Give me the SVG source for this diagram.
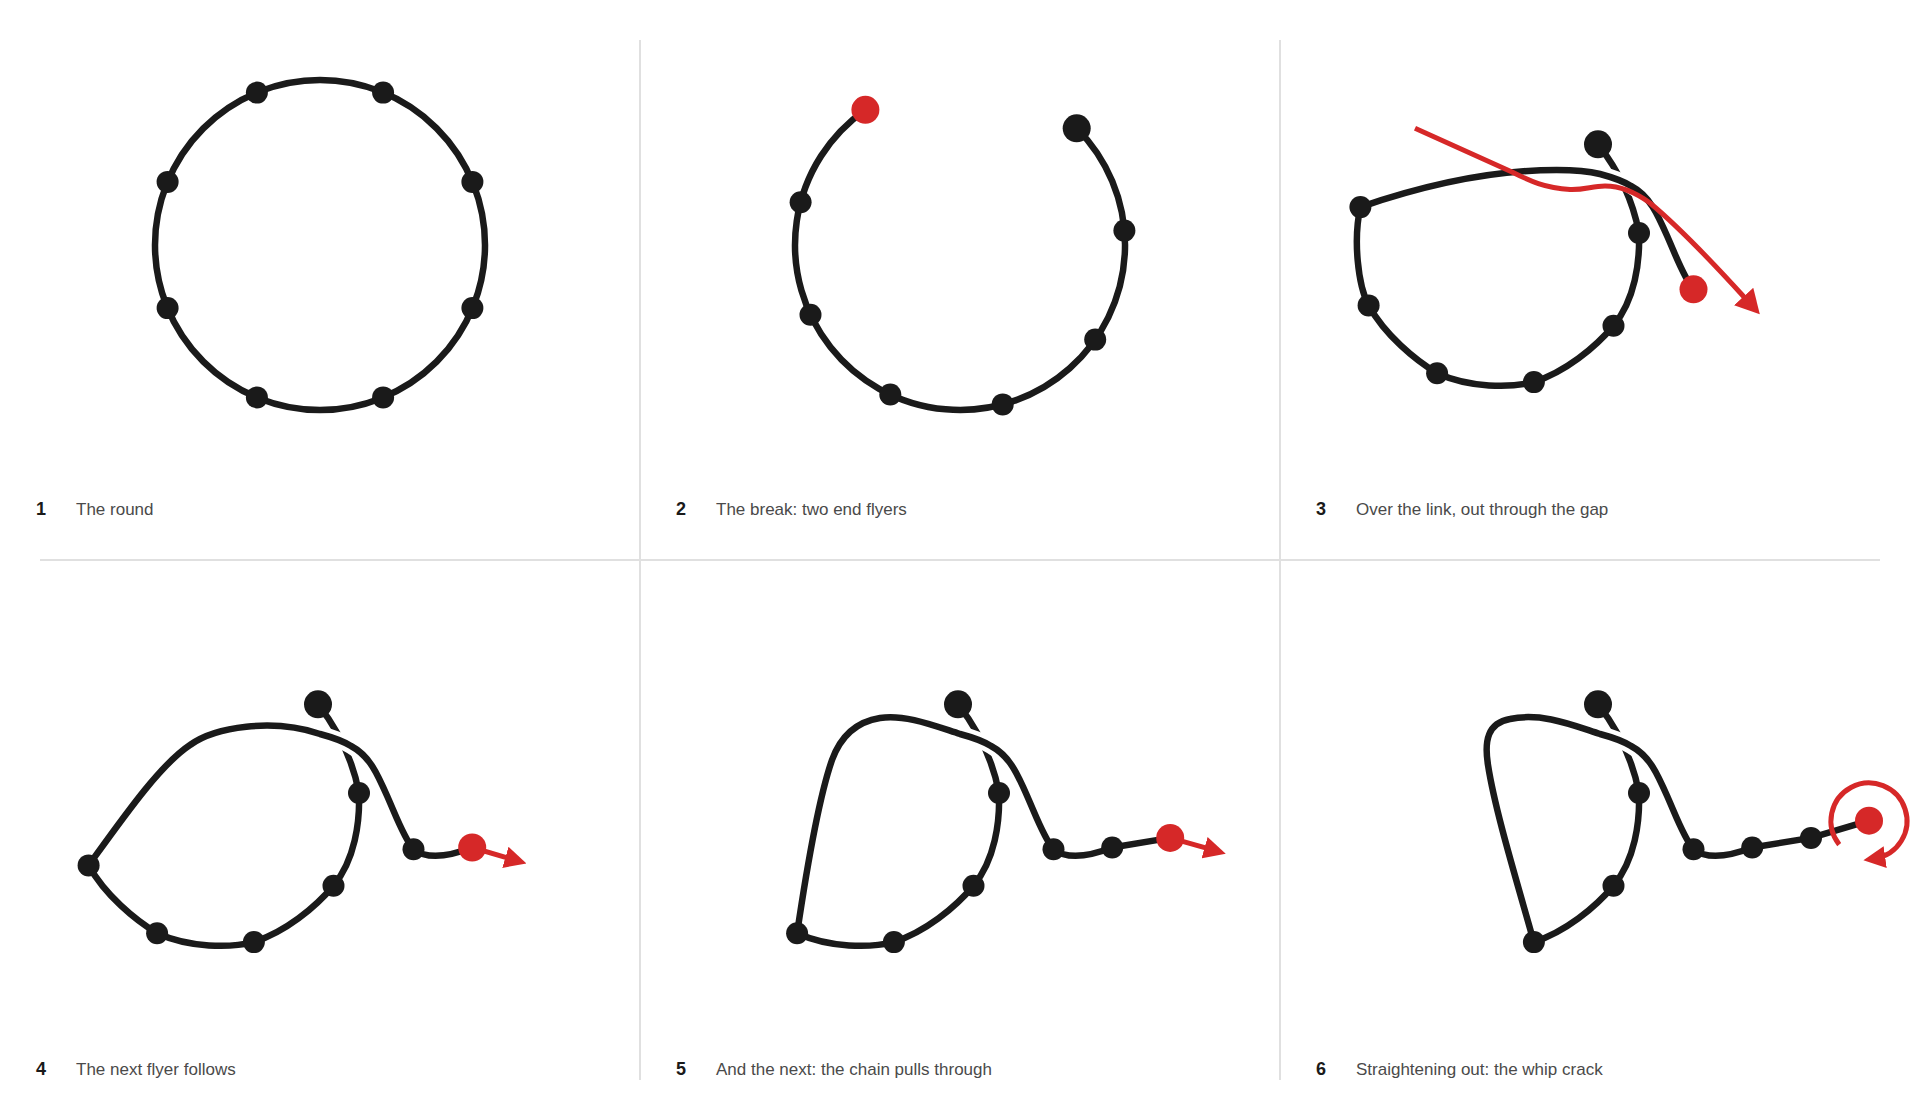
<svg xmlns="http://www.w3.org/2000/svg" width="1920" height="1120" viewBox="0 0 1920 1120">
<style>
.ln{fill:none;stroke:#1a1a1a;stroke-width:6.5;stroke-linecap:round;stroke-linejoin:round}
.halo{fill:none;stroke:#fff;stroke-width:16;stroke-linecap:butt}
.dot{fill:#1a1a1a}
.rdot{fill:#d62828}
.rl{fill:none;stroke:#d62828;stroke-width:5;stroke-linecap:butt;stroke-linejoin:round}
.num{font-family:"Liberation Sans",Arial,sans-serif;font-weight:bold;font-size:18px;fill:#1a1a1a}
.cap{font-family:"Liberation Sans",Arial,sans-serif;font-size:17px;fill:#4a4a4a}
.div{stroke:#e0e0e0;stroke-width:2;fill:none}
</style>
<defs>
<marker id="ah" markerUnits="userSpaceOnUse" viewBox="0 0 22 22" markerWidth="22" markerHeight="22" refX="2" refY="11" orient="auto"><path d="M0,0 L22,11 L0,22 z" fill="#d62828"/></marker>
<marker id="ahL" markerUnits="userSpaceOnUse" viewBox="0 0 24 26" markerWidth="24" markerHeight="26" refX="2" refY="13" orient="auto"><path d="M0,0 L24,13 L0,26 z" fill="#d62828"/></marker>
<marker id="ahM" markerUnits="userSpaceOnUse" viewBox="0 0 22 22" markerWidth="22" markerHeight="22" refX="11" refY="11" orient="auto"><path d="M0,0 L22,11 L0,22 z" fill="#d62828"/></marker>
</defs>
<rect width="1920" height="1120" fill="#fff"/>
<g id="dividers">
<line class="div" x1="640" y1="40" x2="640" y2="1080"/>
<line class="div" x1="1280" y1="40" x2="1280" y2="1080"/>
<line class="div" x1="40" y1="560" x2="1880" y2="560"/>
</g>

<!-- Panel 1 -->
<g id="panel-1">
<g id="p1-connectors"><circle class="ln" cx="320" cy="245" r="165"/></g>
<g id="p1-dots">
<circle class="dot" cx="256.9" cy="92.6" r="11"/>
<circle class="dot" cx="383.1" cy="92.6" r="11"/>
<circle class="dot" cx="472.4" cy="181.9" r="11"/>
<circle class="dot" cx="472.4" cy="308.1" r="11"/>
<circle class="dot" cx="383.1" cy="397.4" r="11"/>
<circle class="dot" cx="256.9" cy="397.4" r="11"/>
<circle class="dot" cx="167.6" cy="308.1" r="11"/>
<circle class="dot" cx="167.6" cy="181.9" r="11"/>
</g>
<g id="p1-label"><text class="num" x="36" y="515">1</text><text class="cap" x="76" y="515">The round</text></g>
</g>

<!-- Panel 2 -->
<g id="panel-2" transform="translate(640,0)">
<g id="p2-connectors"><path class="ln" d="M225.4,109.8 A165,165 0 1 0 436.7,128.3"/></g>
<g id="p2-dots">
<circle class="dot" cx="160.6" cy="202.3" r="11"/>
<circle class="dot" cx="170.5" cy="314.7" r="11"/>
<circle class="dot" cx="250.3" cy="394.5" r="11"/>
<circle class="dot" cx="362.7" cy="404.4" r="11"/>
<circle class="dot" cx="455.2" cy="339.6" r="11"/>
<circle class="dot" cx="484.4" cy="230.6" r="11"/>
<circle class="dot" cx="436.7" cy="128.3" r="14"/>
<circle class="rdot" cx="225.4" cy="109.8" r="14"/>
</g>
<g id="p2-label"><text class="num" x="36" y="515">2</text><text class="cap" x="76" y="515">The break: two end flyers</text></g>
</g>

<!-- Panel 3 -->
<g id="panel-3" transform="translate(1280,0)">
<g id="p3-connectors">
<path class="ln" d="M318,144.3 Q350,185 359,233 C360,262 355,300 333.5,325.7 C315,348 285,372 253.9,382.1 C230,388 190,388 157.1,373.2 C135,360 105,335 88.6,305.4 C78,285 73,240 80.4,207.1"/>
<path class="halo" d="M305,170.5 L320,174 C333,177.5 343,181 351,186 C362,192 369,200 376,211"/>
<path class="ln" d="M80.4,207.1 C130,190 200,170 276.7,170 C295,170 308,171 320,174 C333,177.5 343,181 351,186 C370,196 378,215 388,238 C396,256 404,278 413.5,289.3"/>
<path class="rl" marker-end="url(#ahL)" d="M135,128.3 L232,172 C250,181 265,188 290,189.5 C305,190 312,186 325,186 C340,186 355,192 370,203 C400,228 435,265 465,298"/>
</g>
<g id="p3-dots">
<circle class="dot" cx="359" cy="233" r="11"/>
<circle class="dot" cx="333.5" cy="325.7" r="11"/>
<circle class="dot" cx="253.9" cy="382.1" r="11"/>
<circle class="dot" cx="157.1" cy="373.2" r="11"/>
<circle class="dot" cx="88.6" cy="305.4" r="11"/>
<circle class="dot" cx="80.4" cy="207.1" r="11"/>
<circle class="dot" cx="318" cy="144.3" r="14"/>
<circle class="rdot" cx="413.5" cy="289.3" r="14"/>
</g>
<g id="p3-label"><text class="num" x="36" y="515">3</text><text class="cap" x="76" y="515">Over the link, out through the gap</text></g>
</g>

<!-- Panel 4 -->
<g id="panel-4" transform="translate(0,560)">
<g id="p4-connectors">
<path class="ln" d="M318,144.3 Q350,185 359,233 C360,262 355,300 333.5,325.7 C315,348 285,372 253.9,382.1 C230,388 190,388 157.1,373.2 C135,360 105,335 88.6,305.4"/>
<path class="halo" d="M305,170.5 L320,174 C333,177.5 343,181 351,186 C362,192 369,200 376,211"/>
<path class="ln" d="M88.6,305.4 C125,255 160,205 190,185 C215,167 272,158 320,174 C333,177.5 343,181 351,186 C370,196 378,215 388,238 C396,256 404,278 413.5,289.3 C425,298 445,298 472.2,287.5"/>
<path class="rl" marker-end="url(#ah)" d="M472.2,287.5 L507.3,297.9"/>
</g>
<g id="p4-dots">
<circle class="dot" cx="359" cy="233" r="11"/>
<circle class="dot" cx="333.5" cy="325.7" r="11"/>
<circle class="dot" cx="253.9" cy="382.1" r="11"/>
<circle class="dot" cx="157.1" cy="373.2" r="11"/>
<circle class="dot" cx="88.6" cy="305.4" r="11"/>
<circle class="dot" cx="413.5" cy="289.3" r="11"/>
<circle class="dot" cx="318" cy="144.3" r="14"/>
<circle class="rdot" cx="472.2" cy="287.5" r="14"/>
</g>
<g id="p4-label"><text class="num" x="36" y="515">4</text><text class="cap" x="76" y="515">The next flyer follows</text></g>
</g>

<!-- Panel 5 -->
<g id="panel-5" transform="translate(640,560)">
<g id="p5-connectors">
<path class="ln" d="M318,144.3 Q350,185 359,233 C360,262 355,300 333.5,325.7 C315,348 285,372 253.9,382.1 C230,388 190,388 157.1,373.2"/>
<path class="halo" d="M305,170.5 L320,174 C333,177.5 343,181 351,186 C362,192 369,200 376,211"/>
<path class="ln" d="M157.1,373.2 C165,320 178,240 192,200 C200,178 215,162 240,158 C265,154 295,166 320,174 C333,177.5 343,181 351,186 C370,196 378,215 388,238 C396,256 404,278 413.5,289.3 C425,298 445,298 472.2,287.5 L530.2,277.9"/>
<path class="rl" marker-end="url(#ah)" d="M530.2,277.9 L566.5,288.2"/>
</g>
<g id="p5-dots">
<circle class="dot" cx="359" cy="233" r="11"/>
<circle class="dot" cx="333.5" cy="325.7" r="11"/>
<circle class="dot" cx="253.9" cy="382.1" r="11"/>
<circle class="dot" cx="157.1" cy="373.2" r="11"/>
<circle class="dot" cx="413.5" cy="289.3" r="11"/>
<circle class="dot" cx="472.2" cy="287.5" r="11"/>
<circle class="dot" cx="318" cy="144.3" r="14"/>
<circle class="rdot" cx="530.2" cy="277.9" r="14"/>
</g>
<g id="p5-label"><text class="num" x="36" y="515">5</text><text class="cap" x="76" y="515">And the next: the chain pulls through</text></g>
</g>

<!-- Panel 6 -->
<g id="panel-6" transform="translate(1280,560)">
<g id="p6-connectors">
<path class="ln" d="M318,144.3 Q350,185 359,233 C360,262 355,300 333.5,325.7 C315,348 285,372 253.9,382.1"/>
<path class="halo" d="M305,170.5 L320,174 C333,177.5 343,181 351,186 C362,192 369,200 376,211"/>
<path class="ln" d="M253.9,382.1 C235,315 215,250 208,205 C204,180 208,163 230,159 C262,152 295,166 320,174 C333,177.5 343,181 351,186 C370,196 378,215 388,238 C396,256 404,278 413.5,289.3 C425,298 445,298 472.2,287.5 L531,277.9 L589,260.7"/>
<path class="rl" marker-end="url(#ahM)" d="M559.2,284.6 A38,38 0 1 1 594.3,298.6"/>
</g>
<g id="p6-dots">
<circle class="dot" cx="359" cy="233" r="11"/>
<circle class="dot" cx="333.5" cy="325.7" r="11"/>
<circle class="dot" cx="253.9" cy="382.1" r="11"/>
<circle class="dot" cx="413.5" cy="289.3" r="11"/>
<circle class="dot" cx="472.2" cy="287.5" r="11"/>
<circle class="dot" cx="531" cy="277.9" r="11"/>
<circle class="dot" cx="318" cy="144.3" r="14"/>
<circle class="rdot" cx="589" cy="260.7" r="14"/>
</g>
<g id="p6-label"><text class="num" x="36" y="515">6</text><text class="cap" x="76" y="515">Straightening out: the whip crack</text></g>
</g>
</svg>
